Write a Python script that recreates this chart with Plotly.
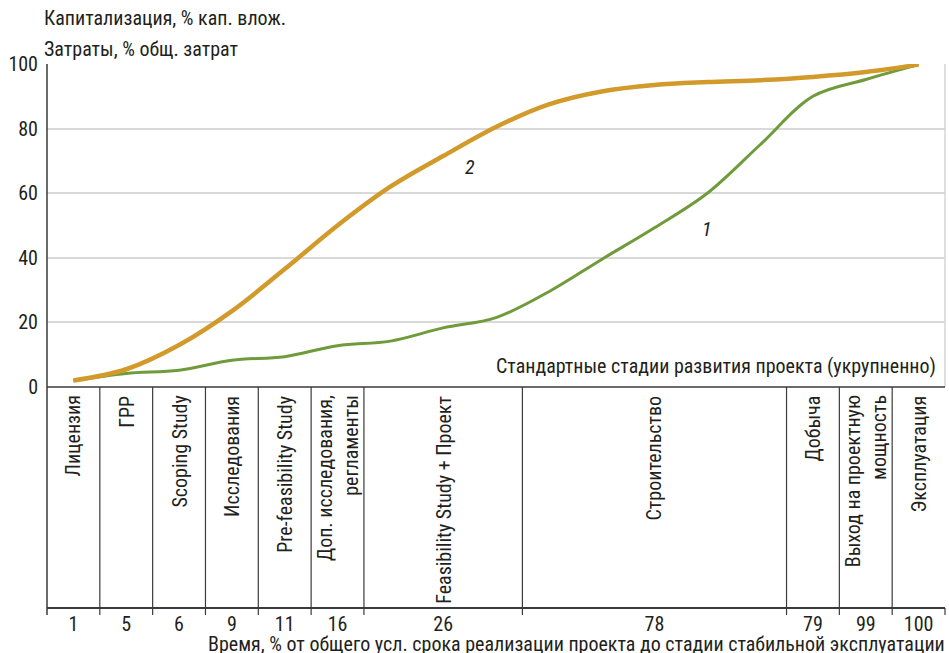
import plotly.graph_objects as go
import numpy as np

# ---- data ----
stages = ["Лицензия", "ГРР", "Scoping Study", "Исследования", "Pre-feasibility Study",
          "Доп. исследования,<br>регламенты", "Feasibility Study + Проект", "Строительство",
          "Добыча", "Выход на проектную<br>мощность", "Эксплуатация"]
stage_widths = [1, 1, 1, 1, 1, 1, 3, 5, 1, 1, 1]
time_ticks = ["1", "5", "6", "9", "11", "16", "26", "78", "79", "99", "100"]

curve_x = [0.5, 1.5, 2.5, 3.5, 4.5, 5.5, 6.5, 7.5, 8.5, 9.5, 10.5, 11.5, 12.5, 13.5, 14.5, 15.5, 16.5]
capitalization = [2, 4.2, 5.2, 8.3, 9.4, 12.8, 14.2, 18.3, 21.5, 29.5, 39.5, 49.3, 60, 75, 90, 95.2, 99.8]
costs = [2, 5.5, 13, 23.5, 36.5, 50, 62, 71.5, 80.5, 87.5, 91.5, 93.5, 94.4, 95, 96, 97.5, 99.8]

FONT = "Roboto Condensed, Liberation Sans Narrow, DejaVu Sans Condensed, Arial Narrow, sans-serif"
FS = 20
TXT = "#231f20"
DARK = "#3a3a3a"
SPLIT = 0.40625  # upper-panel bottom (paper)

edges = np.concatenate([[0], np.cumsum(stage_widths)])
centers = (edges[:-1] + edges[1:]) / 2
total = float(edges[-1])

fig = go.Figure()
fig.add_trace(go.Scatter(x=curve_x, y=capitalization, mode="lines",
                         line=dict(color="#6f9b3b", width=3, shape="spline", smoothing=1.0),
                         showlegend=False, hoverinfo="skip"))
fig.add_trace(go.Scatter(x=curve_x, y=costs, mode="lines",
                         line=dict(color="#d19a2b", width=4.5, shape="spline", smoothing=1.0),
                         showlegend=False, hoverinfo="skip"))

shapes = []
shapes.append(dict(type="line", xref="paper", yref="paper", x0=0, x1=0, y0=-0.013, y1=1,
                   line=dict(color=DARK, width=1.5)))
shapes.append(dict(type="line", xref="paper", yref="paper", x0=1, x1=1, y0=SPLIT, y1=1,
                   line=dict(color="#d4d4d4", width=1.5)))
shapes.append(dict(type="line", xref="paper", yref="paper", x0=0, x1=1, y0=SPLIT, y1=SPLIT,
                   line=dict(color=DARK, width=1.5)))
for e in edges[1:-1]:
    shapes.append(dict(type="line", xref="x", yref="paper", x0=e, x1=e, y0=-0.013, y1=SPLIT,
                       line=dict(color=DARK, width=1.2)))
shapes.append(dict(type="line", xref="paper", yref="paper", x0=1, x1=1, y0=-0.013, y1=0,
                   line=dict(color=DARK, width=1.2)))

ann = []
for c, s in zip(centers, stages):
    ann.append(dict(x=c, y=SPLIT - 0.012, xref="x", yref="paper", text=s, showarrow=False,
                    textangle=-90, xanchor="center", yanchor="top", align="right",
                    font=dict(family=FONT, size=FS, color=TXT)))
ann.append(dict(x=0, y=1.0276, xref="paper", yref="paper", xanchor="left", yanchor="middle",
                text="Затраты, % общ. затрат", showarrow=False, xshift=-5,
                font=dict(family=FONT, size=FS, color=TXT)))
ann.append(dict(x=0, y=1.0846, xref="paper", yref="paper", xanchor="left", yanchor="middle",
                text="Капитализация, % кап. влож.", showarrow=False, xshift=-5,
                font=dict(family=FONT, size=FS, color=TXT)))
ann.append(dict(x=1, y=SPLIT + 0.0386, xref="paper", yref="paper", xanchor="right", yanchor="middle",
                text="Стандартные стадии развития проекта (укрупненно)", showarrow=False, xshift=-7,
                font=dict(family=FONT, size=FS, color=TXT)))
ann.append(dict(x=1, y=-0.066, xref="paper", yref="paper", xanchor="right", yanchor="middle",
                text="Время, % от общего усл. срока реализации проекта до стадии стабильной эксплуатации",
                showarrow=False, xshift=2, font=dict(family=FONT, size=FS, color=TXT)))
ann.append(dict(x=12.5, y=49, xref="x", yref="y", text="<i>1</i>", showarrow=False,
                font=dict(family=FONT, size=FS, color=TXT)))
ann.append(dict(x=8.0, y=68, xref="x", yref="y", text="<i>2</i>", showarrow=False,
                font=dict(family=FONT, size=FS, color=TXT)))

fig.update_layout(
    width=949, height=653,
    margin=dict(l=47, r=4, t=64, b=45),
    paper_bgcolor="white", plot_bgcolor="white",
    font=dict(family=FONT, size=FS, color=TXT),
    xaxis=dict(range=[0, total], anchor="free", position=0, tickmode="array", tickvals=list(centers),
               ticktext=time_ticks, ticks="", showgrid=False, zeroline=False,
               showline=True, linecolor=DARK, linewidth=1.5, ticklabelstandoff=-2,
               tickfont=dict(family=FONT, size=FS, color=TXT)),
    yaxis=dict(domain=[SPLIT, 1], range=[0, 100], tickmode="array", tickvals=[0, 20, 40, 60, 80, 100],
               showgrid=True, gridcolor="#d9d9d9", gridwidth=1.5, zeroline=False, ticks="",
               showline=False, ticklabelstandoff=8,
               tickfont=dict(family=FONT, size=FS, color=TXT)),
    shapes=shapes, annotations=ann,
)
fig.write_html("out.html", config={"displayModeBar": False},
               post_script="document.body.style.margin='0px';")
